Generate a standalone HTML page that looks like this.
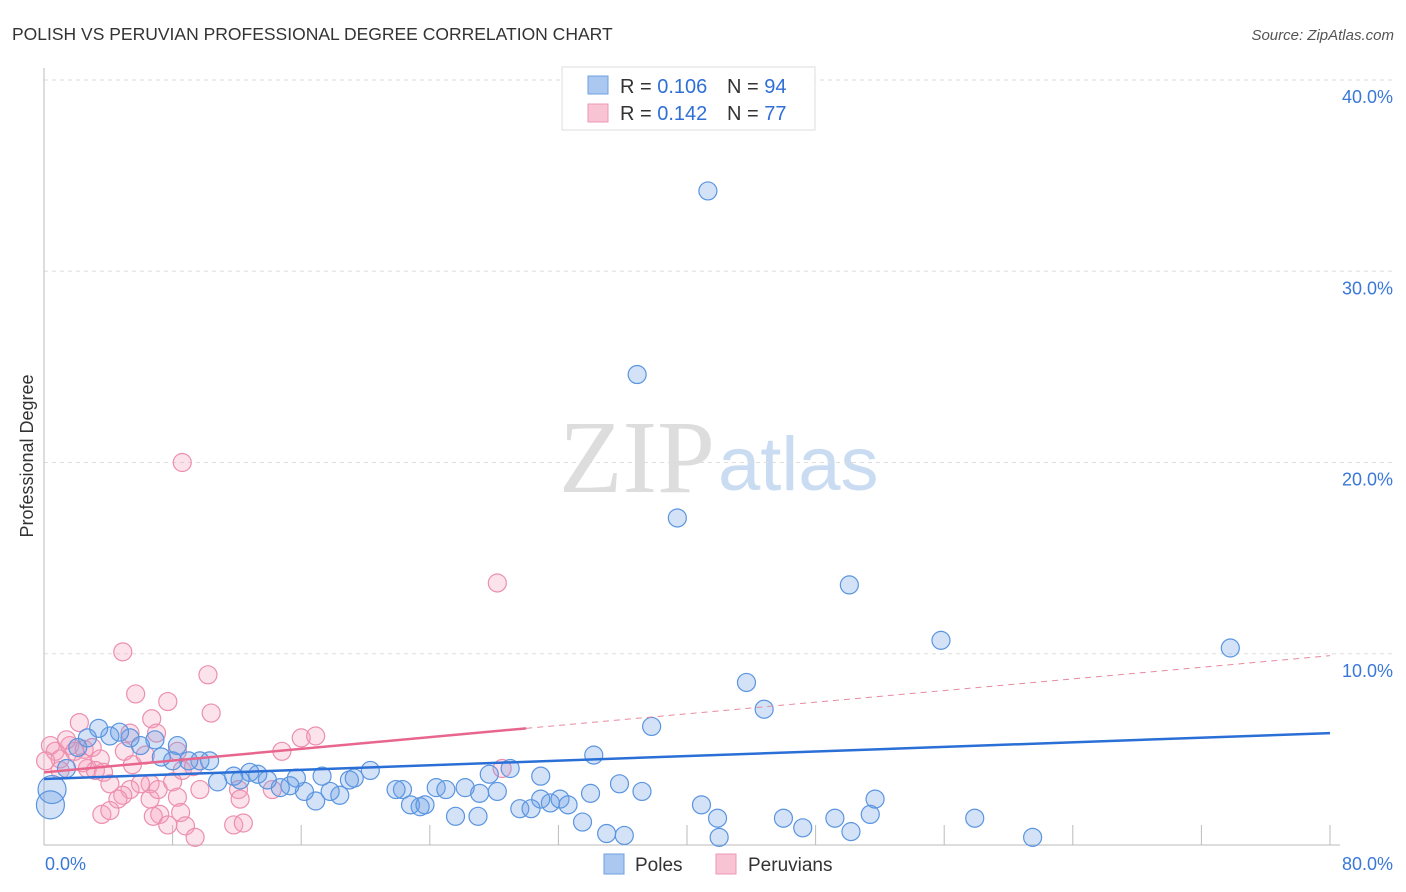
<!DOCTYPE html>
<html><head><meta charset="utf-8"><style>
body{margin:0;background:#fff;font-family:"Liberation Sans",sans-serif;}
#wrap{position:relative;width:1406px;height:892px;overflow:hidden;}
</style></head><body>
<div id="wrap">
<svg id="svg" width="1406" height="892" xmlns="http://www.w3.org/2000/svg">
<text x="12" y="40" font-size="17.5" fill="#333">POLISH VS PERUVIAN PROFESSIONAL DEGREE CORRELATION CHART</text>
<text x="1394" y="40" font-size="15" fill="#555" font-style="italic" text-anchor="end">Source: ZipAtlas.com</text>
<text x="715" y="492" font-size="104" fill="#ddd" font-family="Liberation Serif,serif" text-anchor="end">ZIP</text>
<text x="718" y="490" font-size="76" fill="#c9dcf2" text-anchor="start">atlas</text>
<text transform="translate(33,456) rotate(-90)" font-size="18" fill="#333" text-anchor="middle">Professional Degree</text>
<g id="grid"></g><g id="axes"></g><g id="pts"></g><g id="lines"></g>
<g>
<rect x="562" y="67" width="253" height="63" fill="#fff" stroke="#ddd"/>
<rect x="588" y="76" width="20" height="18" fill="#aac8f0" stroke="#6fa1e0"/>
<rect x="588" y="104" width="20" height="18" fill="#f8c3d3" stroke="#ec99b4"/>
<text x="620" y="93" font-size="20" fill="#333">R = <tspan fill="#2f6fd6">0.106</tspan></text>
<text x="727" y="93" font-size="20" fill="#333">N = <tspan fill="#2f6fd6">94</tspan></text>
<text x="620" y="120" font-size="20" fill="#333">R = <tspan fill="#2f6fd6">0.142</tspan></text>
<text x="727" y="120" font-size="20" fill="#333">N = <tspan fill="#2f6fd6">77</tspan></text>
</g>
<g>
<rect x="604" y="854" width="20" height="20" fill="#aac8f0" stroke="#6fa1e0"/>
<text x="635" y="871" font-size="19" fill="#333">Poles</text>
<rect x="716" y="854" width="20" height="20" fill="#f8c3d3" stroke="#ec99b4"/>
<text x="748" y="871" font-size="19" fill="#333">Peruvians</text>
</g>
</svg>
</div>
<script>
const yTicks=[10,20,30,40];
const yTickLabels=["10.0%","20.0%","30.0%","40.0%"];
const xTicks=[0,8,16,24,32,40,48,56,64,72,80];
const polesX=[41.3,36.9,39.4,50.1,55.8,73.8,43.7,44.8,37.8,34.2,30.9,27.7,29.0,28.2,26.2,27.1,25.6,27.0,24.4,25.0,23.4,22.8,23.7,22.3,21.9,20.3,19.0,19.3,18.4,17.8,16.9,16.2,15.7,17.3,15.3,14.7,13.9,13.3,12.8,12.2,11.8,10.8,10.3,9.7,9.0,8.3,8.0,7.3,6.9,6.0,5.35,4.7,4.1,3.4,2.7,2.1,1.4,0.5,0.4,30.9,29.6,30.3,31.5,32.1,32.6,33.5,34.0,35.0,36.1,35.8,37.2,40.9,41.9,42.0,46.0,47.2,49.2,50.2,51.4,51.7,57.9,61.5];
const polesY=[34.2,24.6,17.1,13.6,10.7,10.3,8.5,7.1,6.2,4.7,3.6,3.7,4.0,2.8,3.0,2.7,1.5,1.5,3.0,2.9,2.0,2.1,2.1,2.9,2.9,3.9,3.4,3.5,2.6,2.8,2.3,2.8,3.5,3.6,3.1,3.0,3.4,3.7,3.8,3.4,3.6,3.3,4.4,4.4,4.4,5.2,4.4,4.6,5.5,5.2,5.6,5.9,5.7,6.1,5.6,5.1,4.0,2.9,2.1,2.4,1.9,1.9,2.2,2.4,2.1,1.2,2.7,0.6,0.5,3.2,2.8,2.1,1.4,0.4,1.4,0.9,1.4,0.7,1.6,2.4,1.4,0.4];
const perX=[8.6,28.2,4.9,10.2,5.7,7.7,10.4,6.7,2.2,16.0,16.9,5.35,7.0,14.8,0.4,0.7,1.0,1.6,1.9,2.5,3.0,3.5,2.7,3.2,3.7,4.1,5.0,5.5,6.3,6.6,6.0,5.35,4.9,4.6,6.6,7.1,8.0,8.3,8.6,9.3,9.7,8.3,8.5,7.2,6.8,7.7,8.8,9.4,12.1,12.2,11.8,12.4,3.6,4.1,14.2,28.5,1.0,1.4,0.1,2.4];
const perY=[20.0,13.7,10.1,8.9,7.9,7.5,6.9,6.6,6.4,5.6,5.7,5.85,5.85,4.9,5.2,4.9,4.5,5.2,4.9,5.0,5.1,4.5,4.0,3.9,3.8,3.2,4.9,4.2,4.7,3.2,3.2,2.9,2.6,2.4,2.4,2.9,3.3,4.9,3.9,4.1,2.9,2.5,1.7,1.6,1.5,1.05,1.0,0.4,2.9,2.4,1.05,1.15,1.6,1.8,2.9,4.0,3.9,5.5,4.4,4.3];
const polesTrend=[3.45,5.85];
const perTrend=[3.8,6.1,9.9];
const NS="http://www.w3.org/2000/svg";
const X0=44,X1=1330,Y0=845,Y40=80;
const sx=v=>X0+v/80*(X1-X0);
const sy=v=>Y0-v/40*(Y0-Y40);
function mk(t,a,p){const e=document.createElementNS(NS,t);for(const k in a)e.setAttribute(k,a[k]);p.appendChild(e);return e;}
const grid=document.getElementById('grid'),axes=document.getElementById('axes'),pts=document.getElementById('pts'),lines=document.getElementById('lines');
yTicks.forEach((t,i)=>{
 const l=mk('line',{x1:X0,x2:1394,y1:sy(t),y2:sy(t),stroke:'#ddd','stroke-dasharray':'4,4'},grid);
 
 
 const tx=mk('text',{x:1393,y:sy(t)+23,'font-size':18,fill:'#3a78d8','text-anchor':'end'},grid);
 tx.textContent=yTickLabels[i];
 
 
});
const ya=mk('line',{x1:X0,x2:X0,y1:68,y2:Y0,stroke:'#bbb'},axes);


const xa=mk('line',{x1:X0,x2:1340,y1:Y0,y2:Y0,stroke:'#bbb'},axes);


xTicks.forEach(t=>{
 const l=mk('line',{x1:sx(t),x2:sx(t),y1:Y0-20,y2:Y0,stroke:'#bbb'},axes);
 
 
});
const xl0=mk('text',{x:45,y:870,'font-size':18,fill:'#3a78d8'},axes);xl0.textContent='0.0%';


const xl1=mk('text',{x:1393,y:870,'font-size':18,fill:'#3a78d8','text-anchor':'end'},axes);xl1.textContent='80.0%';


perX.forEach((x,i)=>{
 const c=mk('circle',{cx:sx(x),cy:sy(perY[i]),r:9,fill:'rgba(244,160,188,0.3)',stroke:'#ec8fae','stroke-width':1.2},pts);
 
 
});
polesX.forEach((x,i)=>{
 const r=(x<1)?14:9;
 const c=mk('circle',{cx:sx(x),cy:sy(polesY[i]),r:r,fill:'rgba(110,160,230,0.3)',stroke:'#5a95e0','stroke-width':1.2},pts);
 
 
});
const bt=mk('line',{x1:sx(0),y1:sy(polesTrend[0]),x2:sx(80),y2:sy(polesTrend[1]),stroke:'#2a6fd6','stroke-width':2.5},lines);


const pt=mk('line',{x1:sx(0),y1:sy(perTrend[0]),x2:sx(30),y2:sy(perTrend[1]),stroke:'#e8668e','stroke-width':2.5},lines);


const pd=mk('line',{x1:sx(30),y1:sy(perTrend[1]),x2:sx(80),y2:sy(perTrend[2]),stroke:'#e8899f','stroke-width':1,'stroke-dasharray':'6,5'},lines);


</script>
</body></html>
